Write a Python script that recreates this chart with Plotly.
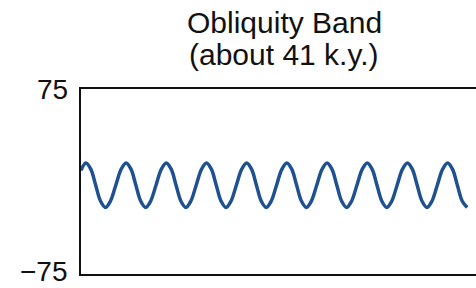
import plotly.graph_objects as go

# Time (k.y.) and filtered obliquity-band signal
time_ky = [0,
           5, 10, 15, 20, 25, 30, 35.5, 41,
           46, 51, 56, 61, 66, 71, 76.5, 82,
           87, 92, 97, 102, 107, 112, 117.5, 123,
           128, 133, 138, 143, 148, 153, 158.5, 164,
           169, 174, 179, 184, 189, 194, 199.5, 205,
           210, 215, 220, 225, 230, 235, 240.5, 246,
           251, 256, 261, 266, 271, 276, 281.5, 287,
           292, 297, 302, 307, 312, 317, 322.5, 328,
           333, 338, 343, 348, 353, 358, 363.5, 369,
           374, 379, 384, 389, 394]
signal = [9,
          15, 10, -3, -16, -21, -16, -3, 10,
          15, 10, -3, -16, -21, -16, -3, 10,
          15, 10, -3, -16, -21, -16, -3, 10,
          15, 10, -3, -16, -21, -16, -3, 10,
          15, 10, -3, -16, -21, -16, -3, 10,
          15, 10, -3, -16, -21, -16, -3, 10,
          15, 10, -3, -16, -21, -16, -3, 10,
          15, 10, -3, -16, -21, -16, -3, 10,
          15, 10, -3, -16, -21, -16, -3, 10,
          15, 10, -3, -16, -21]

y_ticks = [75, -75]
y_tick_text = ["75", "\u221275"]
title_line1 = "Obliquity Band"
title_line2 = "(about 41 k.y.)"

ML, MR, MT, MB = 81, 0, 89, 14
W, H = 476, 288

fig = go.Figure()
fig.add_trace(go.Scatter(
    x=time_ky, y=signal, mode="lines",
    line=dict(color="#1f5190", width=3.5, shape="spline", smoothing=1.0),
    hoverinfo="skip", showlegend=False, cliponaxis=False,
))

font_family = "Liberation Sans, Arial, Helvetica, sans-serif"

plot_w = W - ML - MR
plot_h = H - MT - MB


def paper_x(px):
    return (px - ML) / plot_w


def paper_y(py):
    return (H - MB - py) / plot_h


annotations = [
    dict(text=title_line1, x=paper_x(284), xref="paper", y=paper_y(22.5), yref="paper",
         xanchor="center", yanchor="middle", showarrow=False,
         font=dict(size=30, family=font_family, color="#111111")),
    dict(text=title_line2, x=paper_x(284), xref="paper", y=paper_y(54.5), yref="paper",
         xanchor="center", yanchor="middle", showarrow=False,
         font=dict(size=30, family=font_family, color="#111111")),
]
# y-axis tick labels, placed at their data values on the y axis
for val, txt in zip(y_ticks, y_tick_text):
    annotations.append(dict(
        text=txt, x=paper_x(68), xref="paper", y=val, yref="y",
        xanchor="right", yanchor="middle", showarrow=False,
        yshift=0 if val > 0 else 3,
        borderpad=0, borderwidth=0,
        font=dict(size=28, family=font_family, color="#111111"),
    ))

fig.update_layout(
    width=W, height=H,
    margin=dict(l=ML, r=MR, t=MT, b=MB, pad=0, autoexpand=False),
    paper_bgcolor="white", plot_bgcolor="white",
    font=dict(family=font_family, color="#111111"),
    showlegend=False,
    annotations=annotations,
)

fig.update_xaxes(
    range=[0, 403], showgrid=False, zeroline=False, automargin=False,
    showticklabels=False, ticks="",
    showline=True, linecolor="#111111", linewidth=2, mirror=True,
)
fig.update_yaxes(
    range=[-75, 75], showgrid=False, zeroline=False, automargin=False,
    tickmode="array", tickvals=y_ticks, showticklabels=False, ticks="",
    showline=True, linecolor="#111111", linewidth=2, mirror=False,
)

fig.write_html(
    "out.html",
    config={"displayModeBar": False, "staticPlot": True},
    post_script="document.body.style.margin='0';document.body.style.overflow='hidden';",
)
